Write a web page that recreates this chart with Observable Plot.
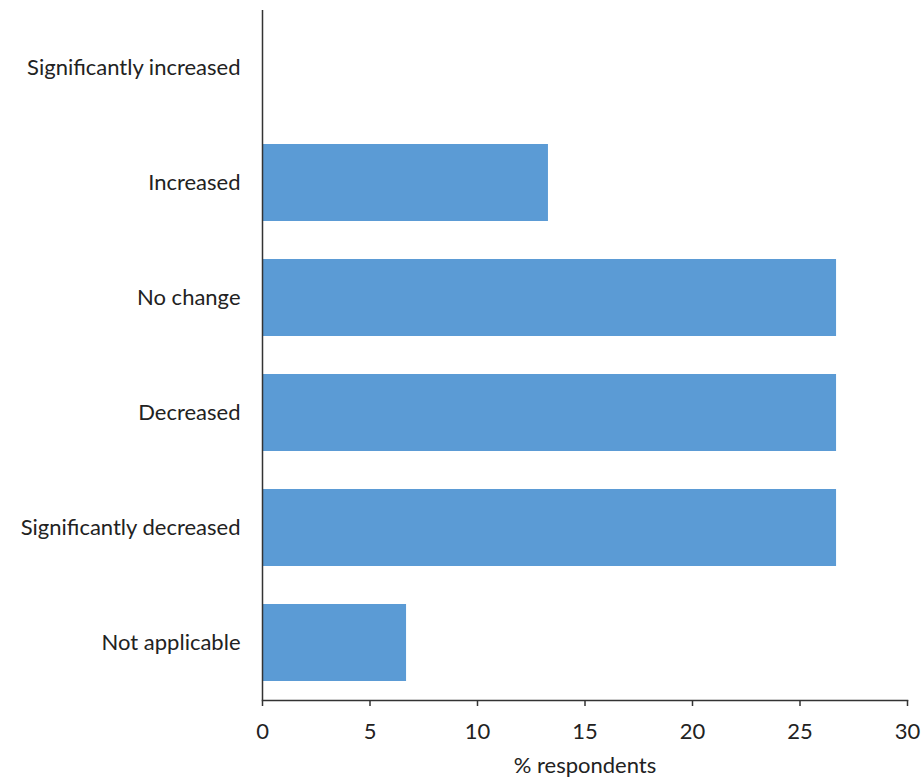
<!DOCTYPE html>
<html>
<head>
<meta charset="utf-8">
<script src="https://cdn.jsdelivr.net/npm/d3@7"></script>
<script src="https://cdn.jsdelivr.net/npm/@observablehq/plot@0.6"></script>
<style>
  html, body { margin: 0; padding: 0; background: #fff; }
  #chart svg { display: block; }
</style>
</head>
<body>
<div id="chart"></div>
<script>
const categories = ["Significantly increased", "Increased", "No change", "Decreased", "Significantly decreased", "Not applicable"];
const values = [0, 13.3, 26.7, 26.7, 26.7, 6.7];
const xTicks = [0, 5, 10, 15, 20, 25, 30];

const data = categories.map((c, i) => ({category: c, value: values[i]}));

const chart = Plot.plot({
  width: 922,
  height: 778,
  marginLeft: 262,
  marginRight: 15,
  marginTop: 10,
  marginBottom: 78,
  style: {fontFamily: "Lato, sans-serif", fontSize: "22px", color: "#222", background: "#fff"},
  x: {domain: [0, 30]},
  y: {domain: categories, paddingInner: 0.33, paddingOuter: 0.165},
  marks: [
    Plot.barX(data, {x: "value", y: "category", fill: "#5B9BD5"}),
    Plot.ruleX([0], {stroke: "#333", strokeWidth: 1.5}),
    Plot.frame({anchor: "bottom", stroke: "#333", strokeWidth: 1.5}),
    Plot.axisY({tickSize: 0, tickPadding: 22, label: null, fontSize: 22}),
    Plot.axisX({ticks: xTicks, tickSize: 6, tickPadding: 17, stroke: "#333", strokeWidth: 1.5,
      label: "% respondents", labelAnchor: "center", labelArrow: "none", labelOffset: 72, fontSize: 22})
  ]
});
document.getElementById("chart").appendChild(chart);
</script>
</body>
</html>
